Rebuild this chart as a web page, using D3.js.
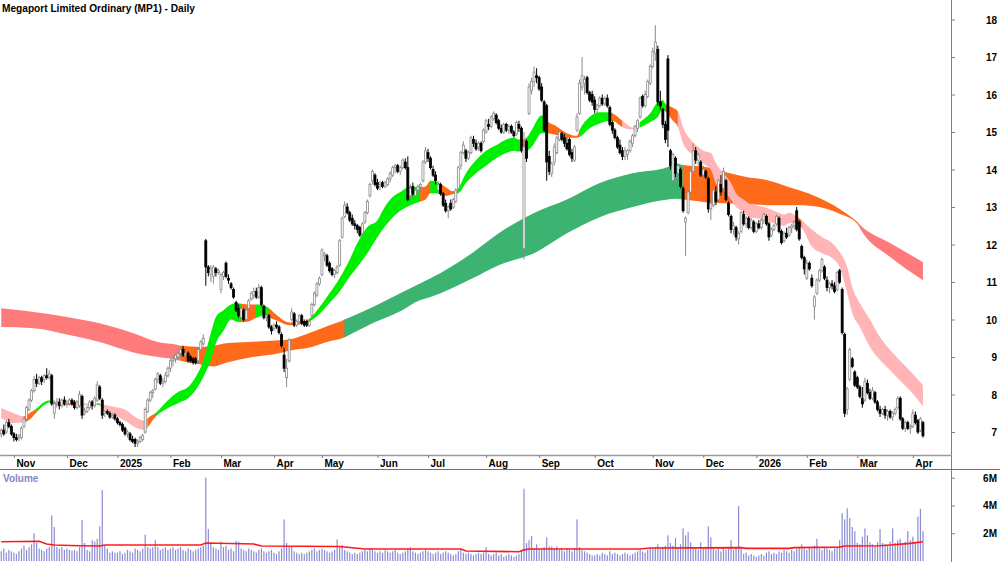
<!DOCTYPE html>
<html><head><meta charset="utf-8">
<script src="https://cdn.jsdelivr.net/npm/d3@7"></script>
<style>
body{margin:0;background:#fff}
svg{display:block}
text{font-family:"Liberation Sans",Arial,sans-serif;font-weight:bold}
</style>
</head><body>
<svg id="chart" width="1000" height="562"></svg>
<script>
// ---------- DATA (trading-day index 0 = 1 Nov 2024) ----------
const firstDay = -5;
const opens = [
6.95,7.05,7.0,7.25,7.15,
6.95,6.85,6.85,6.85,7.15,7.35,7.6,7.85,8.1,8.4,8.3,8.45,8.4,8.5,8.45,8.5,7.5,7.75,7.8,7.7,7.85,
7.75,7.75,7.85,7.8,7.65,7.7,7.95,7.5,7.55,7.65,7.8,7.7,7.85,8.2,7.85,7.5,7.55,7.5,7.4,7.45,
7.35,7.25,7.2,7.1,6.95,6.95,6.8,6.8,6.7,6.75,6.8,7.0,7.55,7.85,8.05,8.15,8.4,8.5,8.3,8.35,8.5,
8.7,8.9,8.95,9.0,9.1,9.2,9.05,9.1,9.0,8.95,8.95,8.9,9.2,9.35,12.1,11.4,11.2,11.15,11.35,11.25,
10.8,11.15,11.5,11.1,10.95,10.8,10.45,10.3,10.05,10.25,10.0,10.3,10.55,10.65,10.75,10.6,10.85,10.35,10.05,10.1,9.8,
9.75,9.85,9.8,9.6,9.05,8.45,8.9,10.0,10.15,9.85,9.95,10.1,9.95,9.95,9.85,10.1,10.4,10.65,10.95,
11.2,11.7,11.7,11.5,11.35,11.2,11.25,11.45,12.2,12.75,13.0,12.85,12.7,12.55,12.5,12.45,12.3,12.6,12.85,13.3,13.7,13.85,
13.65,13.55,13.65,13.55,13.6,13.75,13.85,14.05,14.1,13.95,14.05,14.2,14.05,13.3,13.55,13.3,13.45,13.55,13.7,14.2,
14.45,14.3,14.0,13.85,13.45,13.6,13.35,13.1,12.9,13.1,13.0,13.15,13.5,14.1,14.45,14.5,14.3,14.45,14.8,14.7,14.6,14.7,14.75,
15.0,15.2,15.15,15.35,15.45,15.3,15.1,15.0,15.2,15.05,15.15,15.0,14.95,15.2,15.1,11.9,14.75,15.5,16.1,16.35,16.5,
16.45,16.2,15.8,15.7,14.35,13.9,14.2,14.45,14.8,14.95,14.85,14.7,14.8,14.45,14.25,15.05,15.5,16.2,16.3,16.45,16.05,16.0,
15.85,15.6,15.7,15.9,15.75,15.9,15.65,15.25,15.05,14.85,14.65,14.5,14.35,14.4,14.5,14.7,14.9,15.1,15.4,15.95,15.7,15.95,16.3,
16.75,17.1,17.2,15.8,15.6,15.2,16.95,14.5,13.7,14.3,13.9,14.0,13.5,12.6,12.85,13.4,13.95,14.5,14.25,14.2,
13.85,13.95,13.75,12.95,13.05,13.4,13.2,13.6,13.5,13.7,13.1,12.75,12.4,12.45,12.15,12.35,12.8,12.55,12.7,12.45,12.6,
12.35,12.55,12.45,12.65,12.75,12.55,12.25,12.4,12.55,12.7,12.35,12.1,12.3,12.25,12.45,12.5,12.9,12.6,11.95,11.65,
11.1,11.5,11.1,10.35,10.7,11.05,11.3,11.4,11.05,10.85,10.95,10.9,10.8,11.3,10.8,9.6,7.6,8.4,8.95,8.6,
8.45,8.2,7.9,7.85,8.3,8.05,7.9,8.05,7.8,7.6,7.5,7.6,7.45,7.55,7.4,7.5,7.65,7.9,7.35,7.1,7.25,7.1,
7.15,7.45,7.3,7.05,7.25];
const highs = [
7.1,7.2,7.3,7.35,7.2,
7.0,6.95,6.95,7.15,7.4,7.7,7.9,8.15,8.5,8.55,8.5,8.5,8.55,8.7,8.65,8.55,7.85,7.9,7.9,7.9,7.95,
7.85,7.9,7.9,7.85,7.85,8.1,8.0,7.65,7.7,7.85,7.85,7.95,8.35,8.25,7.9,7.6,7.6,7.55,7.5,7.5,
7.4,7.3,7.25,7.15,7.05,7.0,6.9,6.85,6.8,6.9,6.95,7.65,7.9,8.1,8.15,8.45,8.6,8.55,8.45,8.6,8.75,
8.95,9.05,9.1,9.15,9.25,9.3,9.2,9.15,9.05,9.0,9.0,9.25,9.45,9.6,12.15,11.45,11.45,11.45,11.4,11.35,
11.25,11.3,11.55,11.2,11.0,10.85,10.5,10.4,10.35,10.3,10.3,10.55,10.75,10.85,10.85,10.95,10.9,10.4,10.15,10.15,9.85,
9.9,9.95,9.85,9.65,9.25,8.95,9.5,10.3,10.2,10.0,10.15,10.15,10.0,10.0,10.0,10.45,10.75,11.0,11.15,
11.9,11.8,11.75,11.55,11.4,11.35,11.45,12.15,12.75,13.15,13.1,12.9,12.8,12.65,12.55,12.5,12.6,12.9,13.2,13.65,14.0,13.9,
13.75,13.7,13.7,13.7,13.8,13.95,14.1,14.15,14.15,14.1,14.3,14.3,14.35,13.6,13.65,13.5,13.6,13.65,14.25,14.6,
14.55,14.35,14.1,13.95,13.7,13.65,13.4,13.2,13.05,13.2,13.25,13.5,14.1,14.5,14.75,14.55,14.5,14.9,14.9,14.8,14.75,14.75,15.1,
15.35,15.35,15.45,15.55,15.5,15.35,15.2,15.25,15.25,15.2,15.2,15.05,15.3,15.3,15.15,15.0,14.8,16.3,16.45,16.75,16.7,
16.5,16.3,15.85,15.75,14.5,14.2,14.7,14.9,15.05,15.0,14.95,14.85,14.85,14.55,14.65,15.5,16.4,17.0,16.5,16.5,16.1,16.1,
15.95,15.75,15.95,16.0,15.95,16.0,15.7,15.3,15.1,14.9,14.8,14.6,14.6,14.55,14.8,14.95,15.2,15.35,15.95,16.0,16.1,16.4,16.8,
17.25,17.85,17.3,16.1,15.65,15.3,17.05,14.55,14.45,14.35,14.15,14.05,13.55,12.75,13.45,14.0,14.7,14.6,14.45,14.25,
14.1,14.0,13.8,13.2,13.5,13.55,13.75,13.85,14.05,13.75,13.15,12.8,12.6,12.5,12.35,12.9,12.9,12.75,12.75,12.7,12.65,
12.6,12.65,12.7,12.85,12.8,12.6,12.45,12.55,12.8,12.75,12.4,12.35,12.45,12.5,12.55,12.65,13.0,12.65,12.0,11.7,
11.6,11.55,11.2,10.65,11.1,11.35,11.65,11.45,11.15,11.0,11.05,11.0,11.3,11.35,10.85,9.65,8.2,9.25,9.0,8.65,
8.5,8.25,8.2,8.45,8.4,8.15,8.2,8.1,7.85,7.7,7.65,7.7,7.6,7.6,7.55,7.65,7.95,7.95,7.4,7.3,7.3,7.2,
7.6,7.55,7.35,7.4,7.3];
const lows = [
6.85,6.9,6.95,7.1,6.9,
6.75,6.75,6.75,6.8,7.1,7.3,7.55,7.8,8.05,8.2,8.25,8.25,8.3,8.4,8.4,7.7,7.35,7.65,7.6,7.65,7.7,
7.65,7.7,7.7,7.6,7.6,7.65,7.35,7.45,7.5,7.6,7.6,7.65,7.8,7.85,7.35,7.4,7.45,7.35,7.35,7.3,
7.2,7.15,7.0,6.9,6.85,6.75,6.7,6.6,6.6,6.7,6.75,6.95,7.5,7.8,7.9,8.1,8.3,8.25,8.2,8.3,8.45,
8.6,8.75,8.85,8.9,9.0,9.0,8.95,8.85,8.85,8.8,8.8,8.85,9.15,9.3,10.9,11.15,11.0,10.95,11.15,11.2,
10.7,11.05,11.1,10.95,10.8,10.55,10.2,10.05,9.95,9.95,9.95,10.25,10.5,10.55,10.55,10.55,10.35,10.0,9.95,9.75,9.6,
9.7,9.75,9.6,9.25,8.6,8.2,8.85,9.95,9.8,9.8,9.9,9.85,9.8,9.8,9.8,10.05,10.35,10.6,10.9,
11.15,11.55,11.4,11.25,11.15,11.1,11.2,11.4,12.15,12.7,12.8,12.6,12.5,12.4,12.3,12.2,12.25,12.55,12.8,13.25,13.6,13.55,
13.45,13.45,13.5,13.5,13.55,13.65,13.8,13.9,13.9,13.85,14.0,14.0,13.15,13.2,13.3,13.2,13.35,13.4,13.65,14.15,
14.2,14.0,13.8,13.6,13.35,13.3,13.0,12.85,12.7,12.9,12.95,13.1,13.45,14.0,14.4,14.2,14.25,14.4,14.6,14.5,14.5,14.45,14.7,
14.95,15.05,15.1,15.3,15.2,15.05,14.95,14.95,15.0,14.95,14.95,14.85,14.9,15.0,14.45,11.6,14.2,15.45,16.0,16.2,16.3,
16.1,15.8,15.0,13.7,13.85,13.8,14.1,14.4,14.75,14.75,14.6,14.5,14.35,14.2,14.2,15.0,15.45,16.1,16.0,16.0,15.8,15.7,
15.5,15.5,15.65,15.7,15.7,15.65,15.15,14.95,14.8,14.55,14.4,14.25,14.25,14.25,14.45,14.6,14.85,15.0,15.35,15.65,15.65,15.9,16.25,
16.7,16.9,15.7,15.6,15.1,14.7,14.6,14.0,13.65,13.8,13.7,13.5,12.85,11.7,12.8,13.35,13.9,14.15,14.1,13.8,
13.8,13.75,12.85,12.65,13.0,13.05,13.15,13.3,13.45,13.15,12.75,12.3,12.25,12.1,12.0,12.3,12.5,12.45,12.4,12.4,12.3,
12.3,12.4,12.4,12.55,12.5,12.1,12.2,12.35,12.5,12.3,12.0,12.05,12.15,12.2,12.3,12.4,12.35,12.1,11.6,11.2,
11.05,11.3,10.85,10.0,10.65,11.0,11.25,11.05,10.75,10.7,10.8,10.7,10.75,10.95,9.6,7.4,7.45,8.35,8.7,8.2,
8.15,7.9,7.65,7.8,8.0,7.85,7.85,7.75,7.55,7.4,7.45,7.35,7.3,7.35,7.3,7.45,7.6,7.3,7.05,7.0,7.05,6.95,
7.1,7.2,6.95,7.0,6.85];
const closes = [
7.05,6.95,7.25,7.15,6.95,
6.85,6.8,6.9,7.1,7.35,7.65,7.85,8.1,8.4,8.3,8.45,8.35,8.5,8.45,8.55,7.75,7.75,7.8,7.7,7.85,7.75,
7.8,7.85,7.75,7.65,7.8,8.0,7.45,7.55,7.65,7.8,7.7,7.9,8.25,7.9,7.45,7.55,7.5,7.4,7.45,7.35,
7.25,7.2,7.05,6.95,7.0,6.8,6.75,6.7,6.75,6.85,6.9,7.6,7.85,8.05,8.1,8.4,8.55,8.3,8.35,8.5,8.7,
8.9,8.95,9.05,9.1,9.2,9.05,9.1,8.9,8.9,8.85,8.85,9.2,9.4,9.5,11.4,11.25,11.35,11.4,11.25,11.3,
11.2,11.25,11.15,11.05,10.85,10.6,10.25,10.1,10.3,10.0,10.25,10.5,10.7,10.75,10.6,10.85,10.4,10.05,10.1,9.8,9.7,
9.85,9.8,9.65,9.3,8.7,8.7,9.45,10.2,9.85,9.95,10.1,9.9,9.85,9.85,9.95,10.4,10.7,10.95,11.1,
11.85,11.75,11.45,11.3,11.2,11.3,11.4,12.1,12.7,13.05,12.85,12.65,12.55,12.5,12.4,12.25,12.55,12.85,13.15,13.6,13.95,13.6,
13.5,13.6,13.55,13.65,13.75,13.9,14.05,14.1,13.95,14.05,14.25,14.05,13.2,13.5,13.35,13.45,13.55,13.6,14.2,14.5,
14.3,14.05,13.85,13.7,13.6,13.35,13.05,12.9,13.0,12.95,13.2,13.45,14.05,14.45,14.65,14.3,14.45,14.85,14.7,14.55,14.7,14.5,15.05,
15.3,15.15,15.4,15.5,15.25,15.1,15.0,15.2,15.05,15.15,15.0,14.9,15.25,15.1,14.5,14.6,14.3,16.2,16.35,16.6,16.45,
16.15,15.85,15.05,14.2,13.95,14.15,14.6,14.85,15.0,14.8,14.7,14.55,14.4,14.3,14.6,15.4,16.3,16.5,16.4,16.05,15.85,15.8,
15.6,15.7,15.9,15.75,15.9,15.7,15.2,15.05,14.85,14.6,14.45,14.35,14.5,14.5,14.75,14.9,15.15,15.3,15.9,15.7,16.0,16.35,16.75,
17.15,17.4,15.8,15.7,15.2,14.8,15.05,14.1,14.4,13.9,14.1,13.55,12.9,12.7,13.4,13.95,14.5,14.25,14.4,13.85,
14.0,13.8,12.95,13.1,13.45,13.15,13.7,13.4,13.95,13.2,12.8,12.4,12.5,12.2,12.3,12.85,12.55,12.7,12.45,12.65,12.35,
12.55,12.45,12.65,12.8,12.55,12.2,12.4,12.5,12.75,12.35,12.05,12.3,12.2,12.45,12.5,12.6,12.4,12.15,11.65,11.35,
11.5,11.35,10.9,10.6,11.05,11.3,11.6,11.1,10.85,10.95,10.9,10.75,11.25,11.0,9.65,7.5,8.15,9.2,8.75,8.25,
8.2,7.95,7.75,8.35,8.05,7.9,8.1,7.8,7.6,7.5,7.6,7.45,7.55,7.4,7.5,7.6,7.9,7.35,7.1,7.25,7.1,7.15,
7.5,7.25,7.0,7.35,6.9];
// volume in millions
const volumes = [
0.7,0.9,0.6,0.8,0.7,
0.6,0.5,0.7,0.9,1.1,0.8,1.0,1.2,2.0,1.3,0.9,0.8,0.7,0.9,1.0,3.3,2.45,1.0,0.9,1.0,0.8,
0.9,0.8,0.75,0.8,0.7,1.0,2.95,1.3,0.8,0.7,1.5,1.4,1.6,2.5,5.1,1.1,0.9,0.6,0.7,0.6,
0.6,0.7,0.5,0.6,0.8,0.7,0.6,0.9,0.8,0.7,0.9,1.9,1.0,0.9,1.0,1.5,1.0,0.8,0.9,1.0,0.8,
0.9,1.0,0.8,0.9,1.0,0.8,0.7,0.9,0.8,0.7,0.8,0.9,1.0,1.1,6.0,2.3,1.3,1.0,0.9,0.8,
1.4,1.0,1.1,0.8,0.9,0.7,1.45,1.4,0.9,0.8,0.7,0.9,0.8,0.7,0.6,0.8,0.9,0.7,0.6,0.7,0.8,
0.6,0.5,0.7,0.9,3.0,1.3,1.0,1.0,0.7,0.6,0.5,0.6,0.5,0.6,0.7,0.8,0.9,0.7,0.8,
0.9,0.8,0.7,0.6,0.7,0.8,1.55,1.0,1.15,0.8,0.7,0.6,0.5,0.6,0.5,0.6,0.7,0.8,0.7,0.9,0.8,0.7,
0.6,0.7,0.6,0.8,0.7,0.6,0.7,0.8,0.6,0.5,0.6,0.7,0.9,1.0,0.7,0.6,0.5,0.6,0.7,0.8,
0.7,0.6,0.5,0.6,0.7,0.5,0.6,0.7,0.6,0.5,0.4,0.5,0.7,0.8,0.6,0.5,0.6,0.5,0.4,0.5,0.6,0.5,0.6,
1.0,0.5,0.4,0.5,0.6,0.4,0.5,0.3,0.4,0.5,0.4,0.3,0.4,0.5,0.7,5.2,1.3,1.5,1.8,0.9,1.2,
0.8,0.9,1.0,1.7,1.05,1.05,0.9,1.05,0.8,0.9,0.7,0.93,0.8,0.7,0.9,3.0,1.0,0.8,0.7,0.6,0.5,0.4,
0.4,0.5,0.4,0.6,0.5,0.4,0.7,0.5,0.6,0.5,0.4,0.5,0.6,0.5,0.4,0.5,0.6,0.7,0.8,0.7,0.6,0.8,0.9,
0.9,1.0,1.2,0.9,1.0,1.1,1.85,1.3,1.1,1.65,1.0,1.2,2.35,1.85,2.1,1.35,1.0,0.9,0.8,1.35,
0.9,1.0,2.5,1.7,0.9,0.8,0.9,0.7,1.0,0.8,0.9,1.5,0.8,0.9,3.95,0.9,0.5,0.6,0.4,0.5,0.4,
0.3,0.4,0.5,0.4,0.6,0.7,0.5,0.6,0.5,0.7,0.6,0.8,0.7,0.6,0.8,0.7,0.9,1.0,1.2,0.9,
0.8,1.0,0.9,1.1,1.6,0.9,0.8,1.0,0.9,0.8,0.7,0.9,1.0,1.5,3.45,3.0,3.8,3.1,2.45,2.15,
1.3,1.2,1.75,2.35,1.85,1.35,1.2,1.1,1.35,2.3,1.3,1.2,1.1,1.4,2.35,1.3,1.5,1.6,1.3,1.4,2.15,1.5,
1.75,1.4,3.2,3.75,2.15];
// volume moving average
const volMaDays = [-5,10,13,16,26,34,36,54,74,76,95,98,129,133,139,177,179,200,202,204,248,252,288,290,307,309,327,329,343,347,355,360];
const volMaVals = [1.39,1.42,1.22,1.15,1.1,1.08,1.15,1.15,1.15,1.3,1.22,1.08,1.04,0.97,0.86,0.86,0.72,0.67,0.8,0.86,0.86,0.94,0.96,0.91,0.91,0.96,1.0,1.08,1.1,1.15,1.27,1.39];
// short-term ribbon (fast / slow edges) and trend state u=up m=mixed d=down
const shortDays = [-5,0,4,6,9,12,14,15,18,22,26,30,33,34,36,40,44,48,52,53,56,61,65,69,72,75,78,80,83,86,88,90,93,96,100,101,105,109,113,117,121,125,129,133,136,140,144,146,149,153,157,161,163,165,167,169,171,174,176,179,183,187,191,195,198,200,201,203,205,209,211,215,219,223,224,228,232,236,237,241,245,248,252,255,257,258,261,263,265,268,271,273,276,278,281,284,286,289,291,294,297,301,305,307,310,312,316,320,324,327,330,332,335,339,343,347,351,355,360];
const shortTop = [7.64,7.5,7.42,7.5,7.63,7.8,7.84,7.82,7.78,7.78,7.77,7.76,7.77,7.76,7.72,7.67,7.6,7.4,7.3,7.37,7.5,7.85,8.07,8.2,8.47,8.9,9.64,10.07,10.25,10.4,10.44,10.42,10.4,10.4,10.35,10.3,10.07,9.92,9.92,10.02,10.33,10.7,11.1,11.6,12.04,12.47,12.65,12.9,13.2,13.4,13.55,13.53,13.55,13.7,13.68,13.62,13.53,13.42,13.5,13.9,14.25,14.5,14.65,14.8,14.85,14.8,14.8,14.85,15.05,15.45,15.3,15.15,14.97,14.9,15.05,15.4,15.53,15.52,15.5,15.3,15.12,15.27,15.5,15.8,15.85,15.75,15.65,15.55,15.13,14.8,14.6,14.5,14.44,14.17,13.9,13.64,13.37,13.2,13.1,13.05,13.0,12.9,12.8,12.85,12.75,12.65,12.4,12.2,12.04,11.8,11.4,10.87,10.44,10.0,9.53,9.19,8.9,8.62,8.25];
const shortBot = [7.37,7.24,7.26,7.32,7.53,7.72,7.79,7.77,7.72,7.73,7.72,7.71,7.73,7.71,7.6,7.45,7.3,7.13,7.05,7.13,7.4,7.64,7.77,7.9,8.12,8.47,8.92,9.37,9.7,10.0,9.95,9.93,9.95,10.05,10.12,10.07,9.95,9.85,9.87,9.95,10.15,10.44,10.75,11.15,11.4,11.77,12.2,12.4,12.65,12.9,13.05,13.15,13.2,13.37,13.37,13.35,13.3,13.35,13.37,13.64,13.9,14.1,14.3,14.44,14.5,14.48,14.5,14.5,14.6,14.97,14.97,14.92,14.85,14.85,14.87,15.1,15.23,15.3,15.3,15.13,15.07,15.13,15.27,15.4,15.6,15.55,15.3,15.13,14.7,14.44,14.35,14.17,14.0,13.64,13.45,13.2,13.0,12.87,12.73,12.7,12.65,12.57,12.5,12.57,12.57,12.45,11.95,11.77,11.64,11.4,10.7,10.17,9.8,9.27,8.92,8.65,8.37,8.1,7.68];
const shortState = ["d","d","m","m","u","u","u","m","m","m","d","d","u","d","d","d","d","d","d","m","u","u","u","u","u","u","u","u","u","u","u","m","m","u","u","m","m","m","m","u","u","u","u","u","u","u","u","u","u","u","u","m","m","u","u","m","m","m","u","u","u","u","u","u","u","u","m","u","u","u","m","m","m","m","u","u","u","u","m","d","d","u","u","u","u","m","m","d","d","d","d","d","d","d","d","d","d","d","d","d","d","d","d","d","m","d","d","d","d","d","d","d","d","d","d","d","d","d","d"];
// long-term ribbon
const longDays = [-5,8,21,34,47,57,65,66,74,79,84,93,105,109,118,125,130,131,142,153,161,165,181,192,206,219,232,245,259,262,265,274,282,290,298,307,311,319,327,334,336,347,360];
const longTop = [10.3,10.2,10.07,9.9,9.64,9.4,9.32,9.3,9.27,9.3,9.37,9.4,9.45,9.47,9.67,9.85,9.97,10.0,10.33,10.7,10.97,11.1,11.75,12.3,12.84,13.2,13.64,13.9,14.07,14.17,14.12,14.07,13.93,13.8,13.72,13.53,13.45,13.24,12.95,12.6,12.47,12.04,11.53];
const longBot = [9.8,9.77,9.6,9.4,9.13,9.0,8.92,8.9,8.8,8.75,8.85,8.98,9.1,9.17,9.27,9.42,9.5,9.53,9.9,10.22,10.52,10.6,11.08,11.45,11.77,12.3,12.73,13.0,13.2,13.22,13.2,13.13,13.1,13.08,13.05,13.05,13.05,13.0,12.82,12.55,12.33,11.67,11.05];
const longState = ["d","d","d","d","d","d","d","m","m","m","m","m","m","m","m","m","m","u","u","u","u","u","u","u","u","u","u","u","u","u","m","m","m","m","m","m","m","m","m","d","d","d","d"];
// axes
const priceTicks = [7,8,9,10,11,12,13,14,15,16,17,18];
const volTicks = [2,4,6];
const monthLabels = ["Nov","Dec","2025","Feb","Mar","Apr","May","Jun","Jul","Aug","Sep","Oct","Nov","Dec","2026","Feb","Mar","Apr"];
const monthStartDays = [0,21,41,62,82,103,122,144,164,187,208,230,253,273,294,314,334,356];
const titleText = "Megaport Limited Ordinary (MP1) - Daily";

// ---------- CHART ----------
const svg = d3.select("#chart");
const plotR = 952, priceBottom = 455;
const x = d3.scaleLinear().domain([-5.5, 371.5]).range([0, plotR]);
const y = d3.scaleLinear().domain([7, 18]).range([432, 19.5]);
const yv = d3.scaleLinear().domain([0, 6]).range([561, 477.7]);
const defs = svg.append("defs");
defs.append("clipPath").attr("id","pclip").append("rect").attr("x",0).attr("y",0).attr("width",plotR).attr("height",priceBottom);
defs.append("clipPath").attr("id","vclip").append("rect").attr("x",0).attr("y",470).attr("width",plotR).attr("height",92);

const n = Math.min(opens.length, highs.length, lows.length, closes.length, volumes.length);
const bars = d3.range(n).map(i => ({day: firstDay + i, o: opens[i], h: highs[i], l: lows[i], c: closes[i], v: volumes[i]}));

const pg = svg.append("g").attr("clip-path","url(#pclip)");

function ribbon(days, tops, bots, states, colors, id) {
  const m = Math.min(days.length, tops.length, bots.length, states.length);
  const idx = d3.range(m);
  const area = d3.area().x(i => x(days[i])).y0(i => y(bots[i])).y1(i => y(tops[i])).curve(d3.curveMonotoneX);
  const path = area(idx);
  const runs = [];
  let s = 0;
  for (let k = 1; k <= m; k++) {
    if (k === m || states[k] !== states[s]) {
      runs.push({state: states[s], from: days[s], to: k < m ? days[k] : days[m-1]});
      s = k;
    }
  }
  runs.forEach((r, j) => {
    const cid = id + j;
    const x0 = x(r.from), x1 = x(r.to);
    defs.append("clipPath").attr("id", cid).append("rect")
      .attr("x", x0 - 0.3).attr("y", 0).attr("width", Math.max(0.5, x1 - x0 + 0.6)).attr("height", priceBottom);
    pg.append("path").attr("d", path).attr("fill", colors[r.state]).attr("clip-path", `url(#${cid})`);
  });
}
ribbon(longDays, longTop, longBot, longState, {u:"#3cb371", m:"#ff6a1a", d:"#ff7b7b"}, "lr");
ribbon(shortDays, shortTop, shortBot, shortState, {u:"#00ee00", m:"#ff6a1a", d:"#ffb5b5"}, "sr");

// candles
const cg = pg.append("g");
cg.selectAll("line.w").data(bars).join("line").attr("class","w")
  .attr("x1", d => x(d.day)).attr("x2", d => x(d.day))
  .attr("y1", d => y(d.h)).attr("y2", d => y(d.l))
  .attr("stroke", d => d.c >= d.o ? "#8a8a8a" : "#000").attr("stroke-width", 1);
cg.selectAll("rect.b").data(bars).join("rect").attr("class","b")
  .attr("x", d => x(d.day) - 1).attr("width", 2)
  .attr("y", d => y(Math.max(d.o, d.c)))
  .attr("height", d => Math.max(0.8, Math.abs(y(d.o) - y(d.c))))
  .attr("fill", d => d.c >= d.o ? "#fff" : "#000")
  .attr("stroke", d => d.c >= d.o ? "#8a8a8a" : "#000").attr("stroke-width", 0.8);

// volume
const vg = svg.append("g").attr("clip-path","url(#vclip)");
vg.selectAll("rect").data(bars).join("rect")
  .attr("x", d => x(d.day) - 0.6).attr("width", 1.2)
  .attr("y", d => yv(d.v)).attr("height", d => yv(0) - yv(d.v))
  .attr("fill", "#8c8cd4");
const mIdx = d3.range(Math.min(volMaDays.length, volMaVals.length));
vg.append("path").attr("d", d3.line().x(i => x(volMaDays[i])).y(i => yv(volMaVals[i]))(mIdx))
  .attr("fill","none").attr("stroke","#ff1a1a").attr("stroke-width",1.6);

// frame lines
svg.append("line").attr("x1", plotR - 0.5).attr("x2", plotR - 0.5).attr("y1", 0).attr("y2", 562).attr("stroke","#808080");
svg.append("line").attr("x1", 0).attr("x2", plotR).attr("y1", 455.5).attr("y2", 455.5).attr("stroke","#9a9a9a").attr("stroke-width",1.5);
svg.append("line").attr("x1", 0).attr("x2", 1000).attr("y1", 469.5).attr("y2", 469.5).attr("stroke","#707070");

// price axis
const pax = svg.append("g").attr("transform", `translate(${plotR},0)`)
  .call(d3.axisRight(y).tickValues(priceTicks).tickSize(3).tickFormat(d3.format("d")));
pax.select(".domain").remove();
pax.selectAll(".tick line").attr("stroke","#808080");
pax.selectAll(".tick text").attr("x", 45).attr("dy","0.35em").attr("text-anchor","end")
  .attr("fill","#000").style("font-size","10px").style("font-weight","bold").style("font-family","Liberation Sans, Arial, sans-serif");

// volume axis
const vax = svg.append("g").attr("transform", `translate(${plotR},0)`)
  .call(d3.axisRight(yv).tickValues(volTicks).tickSize(3).tickFormat(d => d + "M"));
vax.select(".domain").remove();
vax.selectAll(".tick line").attr("stroke","#808080");
vax.selectAll(".tick text").attr("x", 45).attr("dy","0.35em").attr("text-anchor","end")
  .attr("fill","#000").style("font-size","10px").style("font-weight","bold").style("font-family","Liberation Sans, Arial, sans-serif");

// date axis
const dax = svg.append("g").attr("transform", `translate(0,${priceBottom})`)
  .call(d3.axisBottom(x).tickValues(monthStartDays).tickSize(3).tickFormat((d, i) => monthLabels[i]));
dax.select(".domain").remove();
dax.selectAll(".tick line").attr("stroke","#808080");
dax.selectAll(".tick text").attr("x", 2).attr("y", 12).attr("dy", 0).attr("text-anchor","start")
  .attr("fill","#000").style("font-size","10px").style("font-weight","bold").style("font-family","Liberation Sans, Arial, sans-serif");

// labels
svg.append("text").attr("x", 2).attr("y", 12).attr("textLength", 193).attr("lengthAdjust","spacingAndGlyphs")
  .style("font-size","11px").attr("fill","#000").text(titleText);
svg.append("text").attr("x", 3).attr("y", 482).style("font-size","10px").attr("fill","#8585c5").text("Volume");
</script>
</body></html>
